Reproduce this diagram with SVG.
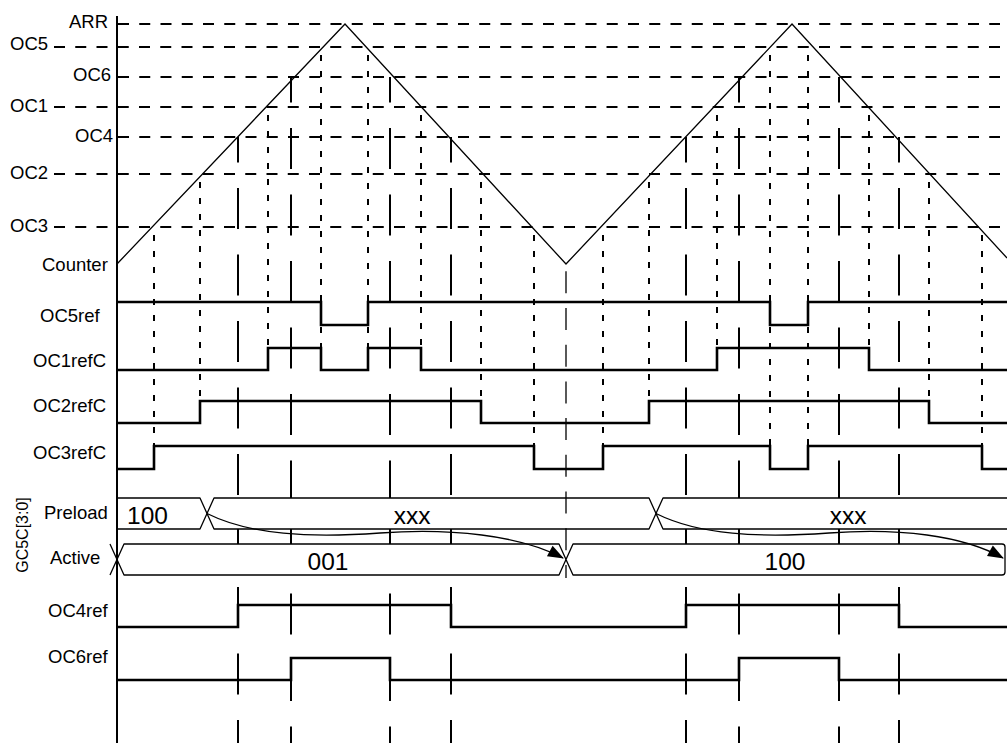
<svg xmlns="http://www.w3.org/2000/svg" width="1007" height="743" viewBox="0 0 1007 743">
<style>
text{font-family:"Liberation Sans",Arial,sans-serif;fill:#000}
.lbl{font-size:18.5px}
.val{font-size:24.5px}
.hd{stroke:#000;stroke-width:2;stroke-dasharray:11 10.25;fill:none}
.dot{stroke:#000;stroke-width:2;stroke-dasharray:6 10;stroke-dashoffset:-8;fill:none}
.ld{stroke:#000;stroke-width:2;stroke-dasharray:41 25.5;stroke-dashoffset:15.5;fill:none}
.sig{stroke:#000;stroke-width:2.6;fill:none;stroke-linejoin:miter}
.bus{stroke:#000;stroke-width:1.3;fill:#fff;stroke-linejoin:round}
.thin{stroke:#000;stroke-width:1.3;fill:none}
</style>
<defs>
<marker id="ah" markerUnits="userSpaceOnUse" markerWidth="17" markerHeight="13" refX="15" refY="6" orient="auto" overflow="visible">
<path d="M0,0 L16,6 L0,12 z" fill="#000"/>
</marker>
</defs>
<rect width="1007" height="743" fill="#fff"/>

<g id="levels">
<line class="hd" x1="118" y1="24" x2="1000" y2="24"/>
<line class="hd" x1="54" y1="47" x2="1000" y2="47"/>
<line class="hd" x1="118" y1="77" x2="1000" y2="77"/>
<line class="hd" x1="54" y1="107" x2="1000" y2="107"/>
<line class="hd" x1="118" y1="137" x2="1000" y2="137"/>
<line class="hd" x1="54" y1="174" x2="1000" y2="174"/>
<line class="hd" x1="54" y1="227" x2="1000" y2="227"/>
<text class="lbl" x="69" y="28">ARR</text>
<text class="lbl" x="10" y="50">OC5</text>
<text class="lbl" x="73" y="81">OC6</text>
<text class="lbl" x="10" y="112">OC1</text>
<text class="lbl" x="75" y="142">OC4</text>
<text class="lbl" x="10" y="179">OC2</text>
<text class="lbl" x="10" y="232">OC3</text>
</g>

<g id="counter">
<polyline class="thin" stroke-width="1.2" points="117,264 345,24 566,264 792,24 1007,258"/>
<text class="lbl" x="42" y="271">Counter</text>
</g>

<g id="markers">
<line class="dot" x1="154" y1="227" x2="154" y2="446"/>
<line class="dot" x1="200" y1="174" x2="200" y2="401"/>
<line class="dot" x1="268" y1="107" x2="268" y2="348"/>
<line class="dot" x1="321" y1="47" x2="321" y2="348"/>
<line class="dot" x1="368" y1="47" x2="368" y2="348"/>
<line class="dot" x1="421" y1="107" x2="421" y2="348"/>
<line class="dot" x1="481" y1="174" x2="481" y2="401"/>
<line class="dot" x1="534" y1="227" x2="534" y2="446"/>
<line class="dot" x1="603" y1="227" x2="603" y2="446"/>
<line class="dot" x1="649" y1="174" x2="649" y2="401"/>
<line class="dot" x1="717" y1="107" x2="717" y2="348"/>
<line class="dot" x1="770" y1="47" x2="770" y2="446"/>
<line class="dot" x1="808" y1="47" x2="808" y2="446"/>
<line class="dot" x1="869" y1="107" x2="869" y2="348"/>
<line class="dot" x1="929" y1="174" x2="929" y2="401"/>
<line class="dot" x1="982" y1="227" x2="982" y2="446"/>
<line class="ld" x1="238" y1="137" x2="238" y2="743"/>
<line class="ld" x1="291" y1="77" x2="291" y2="743"/>
<line class="ld" x1="390" y1="77" x2="390" y2="743"/>
<line class="ld" x1="451" y1="137" x2="451" y2="743"/>
<line class="ld" x1="686" y1="137" x2="686" y2="743"/>
<line class="ld" x1="739" y1="77" x2="739" y2="743"/>
<line class="ld" x1="839" y1="77" x2="839" y2="743"/>
<line class="ld" x1="899" y1="137" x2="899" y2="743"/>
</g>

<g id="oc5ref">
<path class="sig" d="M117,302 H321 V325 H368 V302 H770 V325 H808 V302 H1007"/>
<text class="lbl" x="40" y="322">OC5ref</text>
</g>
<g id="oc1refc">
<path class="sig" d="M117,370 H268 V348 H321 V370 H368 V348 H421 V370 H717 V348 H869 V370 H1007"/>
<text class="lbl" x="33" y="367">OC1refC</text>
</g>
<g id="oc2refc">
<path class="sig" d="M117,423 H200 V401 H481 V423 H649 V401 H929 V423 H1007"/>
<text class="lbl" x="33" y="412">OC2refC</text>
</g>
<g id="oc3refc">
<path class="sig" d="M117,469 H154 V446 H534 V469 H603 V446 H770 V469 H808 V446 H982 V469 H1007"/>
<text class="lbl" x="33" y="459">OC3refC</text>
</g>

<g id="preload">
<path class="bus" d="M117,498 H200 L207,513.5 L200,529 H117"/>
<path class="bus" d="M214,498 H649 L656,513.5 L649,529 H214 L207,513.5 Z"/>
<path class="bus" d="M1012,498 H663 L656,513.5 L663,529 H1012"/>
<text class="lbl" x="44" y="519">Preload</text>
<text class="val" x="127" y="524">100</text>
<text class="val" x="412" y="524" text-anchor="middle">xxx</text>
<text class="val" x="848" y="524" text-anchor="middle">xxx</text>
</g>
<g id="active">
<path class="bus" d="M124,544 H559 L566,559.5 L559,575 H124 L117,559.5 Z"/>
<path class="thin" d="M110,544 L117,559.5 L110,575"/>
<path class="bus" d="M573,544 H1002 Q1005,544 1005,547 V572 Q1005,575 1002,575 H573 L566,559.5 Z"/>
<text class="lbl" x="50" y="564">Active</text>
<text class="val" x="328" y="570" text-anchor="middle">001</text>
<text class="val" x="785" y="570" text-anchor="middle">100</text>
</g>
<text id="gc5c" font-size="16" x="28" y="535" text-anchor="middle" transform="rotate(-90 28 535)">GC5C[3:0]</text>

<line id="valley" class="thin" x1="566" y1="264" x2="566" y2="578" stroke-dasharray="22 14.7" stroke-dashoffset="29.4"/>

<g id="connectors">
<path class="thin" d="M207,513.5 C250,535 310,538 380,533 C450,528 520,535 563,558" marker-end="url(#ah)"/>
<path class="thin" d="M656,513.5 C699,535 759,538 829,533 C899,528 962,535 1003,558" marker-end="url(#ah)"/>
</g>

<g id="oc4ref">
<path class="sig" d="M117,627 H238 V605 H451 V627 H686 V605 H899 V627 H1007"/>
<text class="lbl" x="48" y="617">OC4ref</text>
</g>
<g id="oc6ref">
<path class="sig" d="M117,680 H291 V658 H390 V680 H739 V658 H839 V680 H1007"/>
<text class="lbl" x="48" y="663">OC6ref</text>
</g>

<line id="axis" x1="117" y1="16" x2="117" y2="743" stroke="#000" stroke-width="2"/>
</svg>
